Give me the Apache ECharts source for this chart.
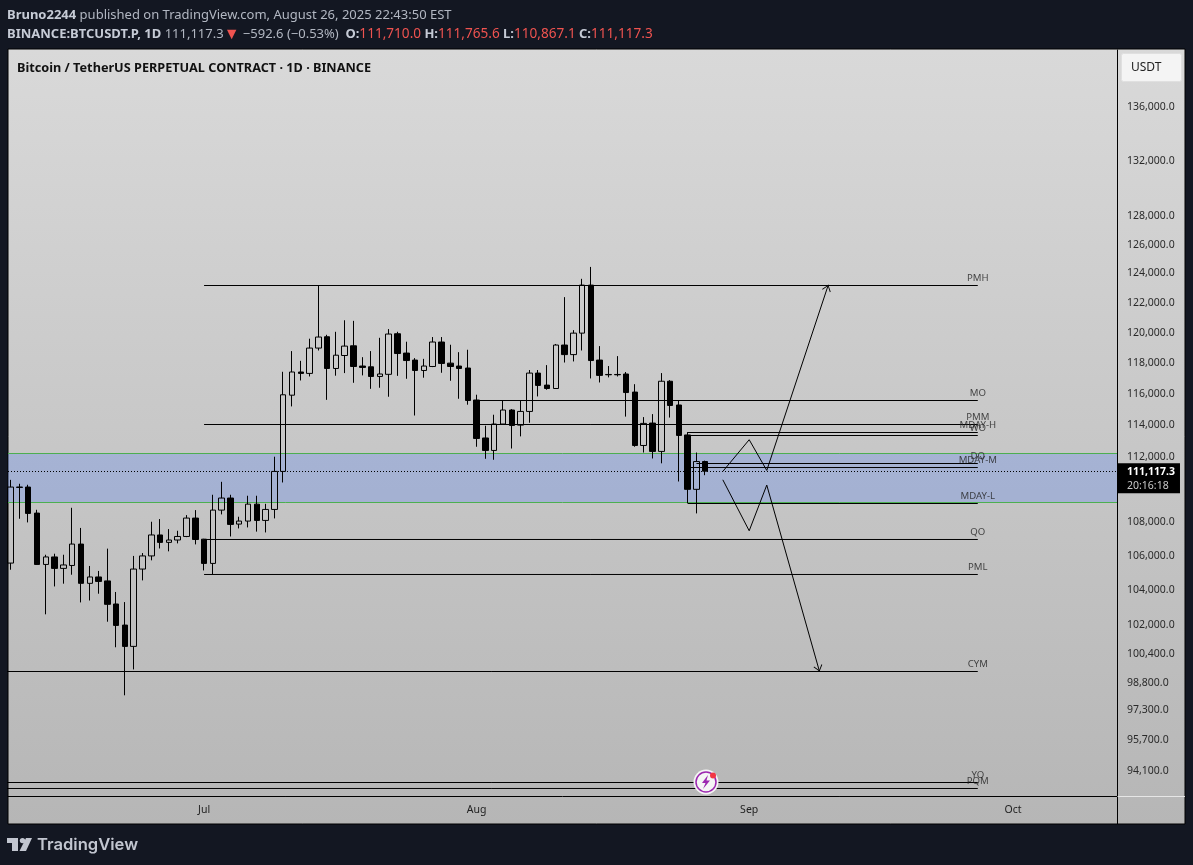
<!DOCTYPE html>
<html>
<head>
<meta charset="utf-8">
<title>BTCUSDT.P 1D</title>
<script src="https://cdn.jsdelivr.net/npm/echarts@6/dist/echarts.min.js"></script>
<style>
  html, body { margin: 0; padding: 0; background: #131722; }
  #chart { width: 1193px; height: 865px; }
</style>
</head>
<body>
<div id="chart"></div>
<script>
var dates = [
  '2025-06-09','2025-06-10','2025-06-11','2025-06-12','2025-06-13','2025-06-14','2025-06-15','2025-06-16','2025-06-17','2025-06-18',
  '2025-06-19','2025-06-20','2025-06-21','2025-06-22','2025-06-23','2025-06-24','2025-06-25','2025-06-26','2025-06-27','2025-06-28',
  '2025-06-29','2025-06-30','2025-07-01','2025-07-02','2025-07-03','2025-07-04','2025-07-05','2025-07-06','2025-07-07','2025-07-08',
  '2025-07-09','2025-07-10','2025-07-11','2025-07-12','2025-07-13','2025-07-14','2025-07-15','2025-07-16','2025-07-17','2025-07-18',
  '2025-07-19','2025-07-20','2025-07-21','2025-07-22','2025-07-23','2025-07-24','2025-07-25','2025-07-26','2025-07-27','2025-07-28',
  '2025-07-29','2025-07-30','2025-07-31','2025-08-01','2025-08-02','2025-08-03','2025-08-04','2025-08-05','2025-08-06','2025-08-07',
  '2025-08-08','2025-08-09','2025-08-10','2025-08-11','2025-08-12','2025-08-13','2025-08-14','2025-08-15','2025-08-16','2025-08-17',
  '2025-08-18','2025-08-19','2025-08-20','2025-08-21','2025-08-22','2025-08-23','2025-08-24','2025-08-25','2025-08-26','2025-08-27'
];
var opens = [
  105590,110140,110140,108560,105510,105950,105280,105450,106710,104410,
  104780,104550,103220,102020,100820,105240,106010,107250,106810,106950,
  107160,108260,107000,105570,108740,109470,107900,108080,109100,108120,
  108780,111100,115900,117400,117310,118970,119720,117630,118480,119120,
  117790,117740,117110,117250,119920,118640,118180,117500,117760,119370,
  117980,117790,117660,115590,113180,112400,114060,114950,113990,114860,
  117330,116550,116330,119170,118540,119960,123200,118180,117240,117240,
  117270,116100,112710,114120,112340,116800,115270,113370,110000,111710
];
var closes = [
  110140,110120,108540,105510,105950,105280,105480,106710,104410,104780,
  104520,103200,102000,100820,105240,106010,107250,106810,106950,107160,
  108260,106980,105570,108740,109470,107880,108080,109100,108120,108780,
  111100,115925,117400,117310,118970,119700,117630,118500,119100,117760,
  117700,117110,117270,119900,118610,118150,117500,117790,119370,117960,
  117760,117630,115560,113150,112400,114060,114950,113970,114860,117330,
  116530,116330,119170,118540,119960,123200,118150,117180,117220,117220,
  116070,112710,114100,112340,116800,115240,113340,110000,111710,111117.3
];
var lows = [
  105200,108220,108000,105490,102630,104230,104390,104910,103310,103420,
  103810,102210,100770,98120,99540,104580,105750,106450,106280,106750,
  107120,106690,105160,104950,108480,107160,107640,107700,107450,107400,
  108240,110420,115180,116850,117110,118810,115600,117160,117330,116700,
  117180,116310,116380,115800,117150,116960,114600,117030,117720,117350,
  116830,115670,115290,112630,111880,111820,114040,112520,113280,114140,
  115820,116250,116310,118020,118090,118810,116980,116720,117050,117110,
  114530,112630,112270,111900,111600,114470,110480,109160,108540,110867.1
];
var highs = [
  110580,110340,110280,108760,106080,106140,106080,108880,107670,105420,
  105130,106440,103910,103330,106010,106180,108040,108200,107600,107500,
  108440,108740,107020,109670,110460,109670,108340,109610,109610,109120,
  112010,117415,118770,118130,119590,123200,119850,120050,120820,120780,
  118370,118770,119650,120230,120050,119390,118310,118260,119700,119700,
  119190,118700,118860,115930,113950,114650,115590,115010,115590,117530,
  117530,117850,119240,122380,120160,123630,124450,119100,117790,118440,
  117400,116610,114500,114690,117330,116870,115590,113550,112270,111765.6
];

var levelNames = ['PMH','MO','PMM','MDAY-H','WO','DO','MDAY-M','MDAY-L','QO','PML','CYM','YO','PQM'];
var levelPrices = [123173,115558,114029,113524,113335,111588,111340,109139,106981,104923,99424,93485,93175];
var levelStarts = ['2025-07-01','2025-08-01','2025-07-01','2025-08-25','2025-08-25','2025-08-26','2025-08-25','2025-08-25','2025-07-01','2025-07-01','2025-06-01','2025-06-01','2025-06-01'];
var levelEnd = '2025-09-27';

var zoneTop = 112235;
var zoneBottom = 109216;
var lastPrice = 111117.3;
var lastPriceText = '111,117.3';
var countdownText = '20:16:18';

var upPathDates = ['2025-08-29','2025-09-01','2025-09-03','2025-09-10'];
var upPathPrices = [111100,113070,111160,123220];
var downPathDates = ['2025-08-29','2025-09-01','2025-09-03','2025-09-09'];
var downPathPrices = [110584,107500,110260,99420];

var priceTicks = [136000,132000,128000,126000,124000,122000,120000,118000,116000,114000,112000,108000,106000,104000,102000,100400,98800,97300,95700,94100];
var timeTicks = ['2025-07-01','2025-08-01','2025-09-01','2025-10-01'];
var timeTickLabels = ['Jul','Aug','Sep','Oct'];

var chart = echarts.init(document.getElementById('chart'));
var FONT = '"Noto Sans", sans-serif';
var ARROW = 'path://M0 0L4.6 6L3.9 6.6L0 1.4L-3.9 6.6L-4.6 6ZM0 -6.6L0 -6.6Z';

var candleData = [];
for (var i = 0; i < dates.length; i++) {
  candleData.push([dates[i], opens[i], closes[i], lows[i], highs[i]]);
}

var series = [];

// zone + last price line hang off the candles
series.push({
  type: 'candlestick',
  data: candleData,
  barWidth: 6,
  z: 4,
  itemStyle: {
    color: 'rgba(0,0,0,0)',
    color0: '#000',
    borderColor: '#000',
    borderColor0: '#000',
    borderWidth: 1
  },
  markArea: {
    silent: true,
    z: 1,
    itemStyle: { color: 'rgba(90,133,243,0.3)' },
    data: [[{ yAxis: zoneTop }, { yAxis: zoneBottom }]]
  },
  markLine: {
    silent: true,
    symbol: 'none',
    z: 2,
    animation: false,
    precision: 1,
    lineStyle: { color: '#4caf50', width: 1, type: 'solid' },
    label: { show: false },
    data: [
      { yAxis: zoneTop },
      { yAxis: zoneBottom },
      {
        yAxis: lastPrice,
        lineStyle: { color: '#000', width: 1, type: [1, 2] },
        label: {
          show: true,
          position: 'end',
          distance: 0,
          offset: [0, 7],
          formatter: '{a|' + lastPriceText + '}\n{b|' + countdownText + '}',
          backgroundColor: '#000',
          padding: [2, 5, 1, 10],
          rich: {
            a: { color: '#fff', fontFamily: FONT, fontWeight: 'bold', fontSize: 10.5, lineHeight: 14 },
            b: { color: '#c8c8c8', fontFamily: FONT, fontSize: 10.5, lineHeight: 13 }
          }
        }
      }
    ]
  }
});

for (var l = 0; l < levelNames.length; l++) {
  series.push({
    type: 'line',
    symbol: 'none',
    z: 3,
    lineStyle: { color: '#000', width: 1 },
    data: [[levelStarts[l], levelPrices[l]], [levelEnd, levelPrices[l]]]
  });
}

var labelData = [];
for (var n = 0; n < levelNames.length; n++) {
  labelData.push({ value: [levelEnd, levelPrices[n]], name: levelNames[n] });
}
series.push({
  type: 'scatter',
  symbolSize: 0,
  z: 5,
  data: labelData,
  label: {
    show: true,
    position: 'top',
    distance: 2,
    formatter: '{b}',
    color: '#222',
    fontFamily: FONT,
    fontSize: 9.6
  }
});

function pathSeries(pathDates, pathPrices, rotate) {
  var pts = [];
  for (var k = 0; k < pathDates.length; k++) {
    var item = { value: [pathDates[k], pathPrices[k]], symbol: 'none' };
    if (k === pathDates.length - 1) {
      item.symbol = ARROW;
      item.symbolSize = 13;
      item.symbolRotate = rotate;
      item.symbolKeepAspect = true;
      item.itemStyle = { color: '#000', borderWidth: 0 };
    }
    pts.push(item);
  }
  return {
    type: 'line',
    showSymbol: true,
    showAllSymbol: true,
    z: 6,
    lineStyle: { color: '#000', width: 1 },
    data: pts
  };
}
series.push(pathSeries(upPathDates, upPathPrices, -18.8));
series.push(pathSeries(downPathDates, downPathPrices, -164.2));

function dayKey(v) {
  var d = new Date(v);
  var m = d.getMonth() + 1;
  return d.getFullYear() + '-' + (m < 10 ? '0' + m : m) + '-' + (d.getDate() < 10 ? '0' + d.getDate() : d.getDate());
}

chart.setOption({
  animation: false,
  backgroundColor: '#131722',
  grid: { left: 8, right: 76, top: 50, bottom: 69 },
  xAxis: {
    type: 'time',
    min: +new Date('2025-06-08T16:48:00'),
    max: +new Date('2025-10-12T20:00:00'),
    axisLine: { show: true, onZero: false, lineStyle: { color: '#000', width: 1 } },
    axisTick: { show: false },
    splitLine: { show: false },
    axisLabel: {
      color: '#222',
      fontFamily: FONT,
      fontSize: 10.5,
      margin: 9,
      hideOverlap: false,
      formatter: function (v) {
        var t = timeTicks.indexOf(dayKey(v));
        return t >= 0 ? timeTickLabels[t] : '';
      }
    }
  },
  yAxis: {
    type: 'log',
    position: 'right',
    min: 92788,
    max: 140368,
    axisLine: { show: true, onZero: false, lineStyle: { color: '#000', width: 1 } },
    axisTick: { show: false },
    splitLine: { show: false },
    minorTick: { show: false },
    axisLabel: {
      color: '#2a2a2a',
      fontFamily: FONT,
      fontSize: 10.5,
      margin: 10,
      padding: [4, 0, 0, 0],
      customValues: priceTicks,
      formatter: function (v) {
        return Number(v).toLocaleString('en-US', { minimumFractionDigits: 1, maximumFractionDigits: 1 });
      }
    }
  },
  series: series,
  graphic: [
    {
      type: 'rect', z: -10, silent: true,
      shape: { x: 8, y: 49, width: 1177, height: 775 },
      style: {
        stroke: '#000', lineWidth: 1,
        fill: new echarts.graphic.LinearGradient(0, 0, 0, 1, [
          { offset: 0, color: '#d9d9d9' },
          { offset: 1, color: '#b6b6b6' }
        ])
      }
    },
    { type: 'line', silent: true, z: 10, shape: { x1: 1117.5, y1: 796, x2: 1117.5, y2: 824 }, style: { stroke: '#000', lineWidth: 1 } },
    { type: 'line', silent: true, z: 10, shape: { x1: 1117.5, y1: 796.5, x2: 1185, y2: 796.5 }, style: { stroke: '#e6e6e6', lineWidth: 1 } },
    {
      type: 'rect', silent: true, z: 10,
      shape: { x: 1121.5, y: 53.5, width: 60, height: 28, r: 2 },
      style: { fill: '#f4f4f4', stroke: '#e0e0e0', lineWidth: 1 }
    },
    {
      type: 'text', silent: true, z: 11, x: 1131, y: 62,
      style: { text: 'USDT', fill: '#222', font: '12px ' + FONT }
    },
    {
      type: 'text', silent: true, z: 11, x: 7, y: 9,
      style: {
        text: '{b|Bruno2244}{n| published on TradingView.com, August 26, 2025 22:43:50 EST}',
        rich: {
          b: { fill: '#c6cbd6', font: 'bold 13px ' + FONT },
          n: { fill: '#b2b7c2', font: '13px ' + FONT }
        }
      }
    },
    {
      type: 'text', silent: true, z: 11, x: 7, y: 26,
      style: {
        text: '{b|BINANCE:BTCUSDT.P, 1D}{n| 111,117.3}{t|▼}{n| −592.6 (−0.53%)}  {b|O:}{r|111,710.0} {b|H:}{r|111,765.6} {b|L:}{r|110,867.1} {b|C:}{r|111,117.3}',
        rich: {
          b: { fill: '#c6cbd6', font: 'bold 13px ' + FONT },
          n: { fill: '#b2b7c2', font: '13px ' + FONT },
          r: { fill: '#ef5350', font: '13.6px ' + FONT },
          t: { fill: '#ef5350', font: '16px ' + FONT }
        }
      }
    },
    {
      type: 'text', silent: true, z: 11, x: 17, y: 62,
      style: { text: 'Bitcoin / TetherUS PERPETUAL CONTRACT · 1D · BINANCE', fill: '#111', font: 'bold 12.7px ' + FONT }
    },
    // TradingView logo
    { type: 'polygon', silent: true, z: 11, shape: { points: [[7, 838], [18, 838], [18, 851], [12, 851], [12, 843], [7, 843]] }, style: { fill: '#c2c6d0' } },
    { type: 'circle', silent: true, z: 11, shape: { cx: 22.5, cy: 840.6, r: 2.7 }, style: { fill: '#c2c6d0' } },
    { type: 'polygon', silent: true, z: 11, shape: { points: [[26, 838], [32, 838], [26, 851], [19.5, 851]] }, style: { fill: '#c2c6d0' } },
    {
      type: 'text', silent: true, z: 11, x: 37, y: 836,
      style: { text: 'TradingView', fill: '#c2c6d0', font: '600 16.6px Inter, ' + FONT }
    },
    // flash badge
    { type: 'circle', silent: true, z: 11, shape: { cx: 706, cy: 782, r: 12.5 }, style: { fill: '#f5f5f5' } },
    { type: 'circle', silent: true, z: 12, shape: { cx: 706, cy: 782, r: 10 }, style: { fill: '#f5f5f5', stroke: '#9c27b0', lineWidth: 1.5 } },
    { type: 'polygon', silent: true, z: 13, shape: { points: [[708, 775], [702, 783], [705.5, 783], [703, 789], [710, 780.5], [706.5, 780.5]] }, style: { fill: '#9c27b0' } },
    { type: 'circle', silent: true, z: 13, shape: { cx: 713, cy: 775.5, r: 3 }, style: { fill: '#f23645' } }
  ]
});
</script>
</body>
</html>
